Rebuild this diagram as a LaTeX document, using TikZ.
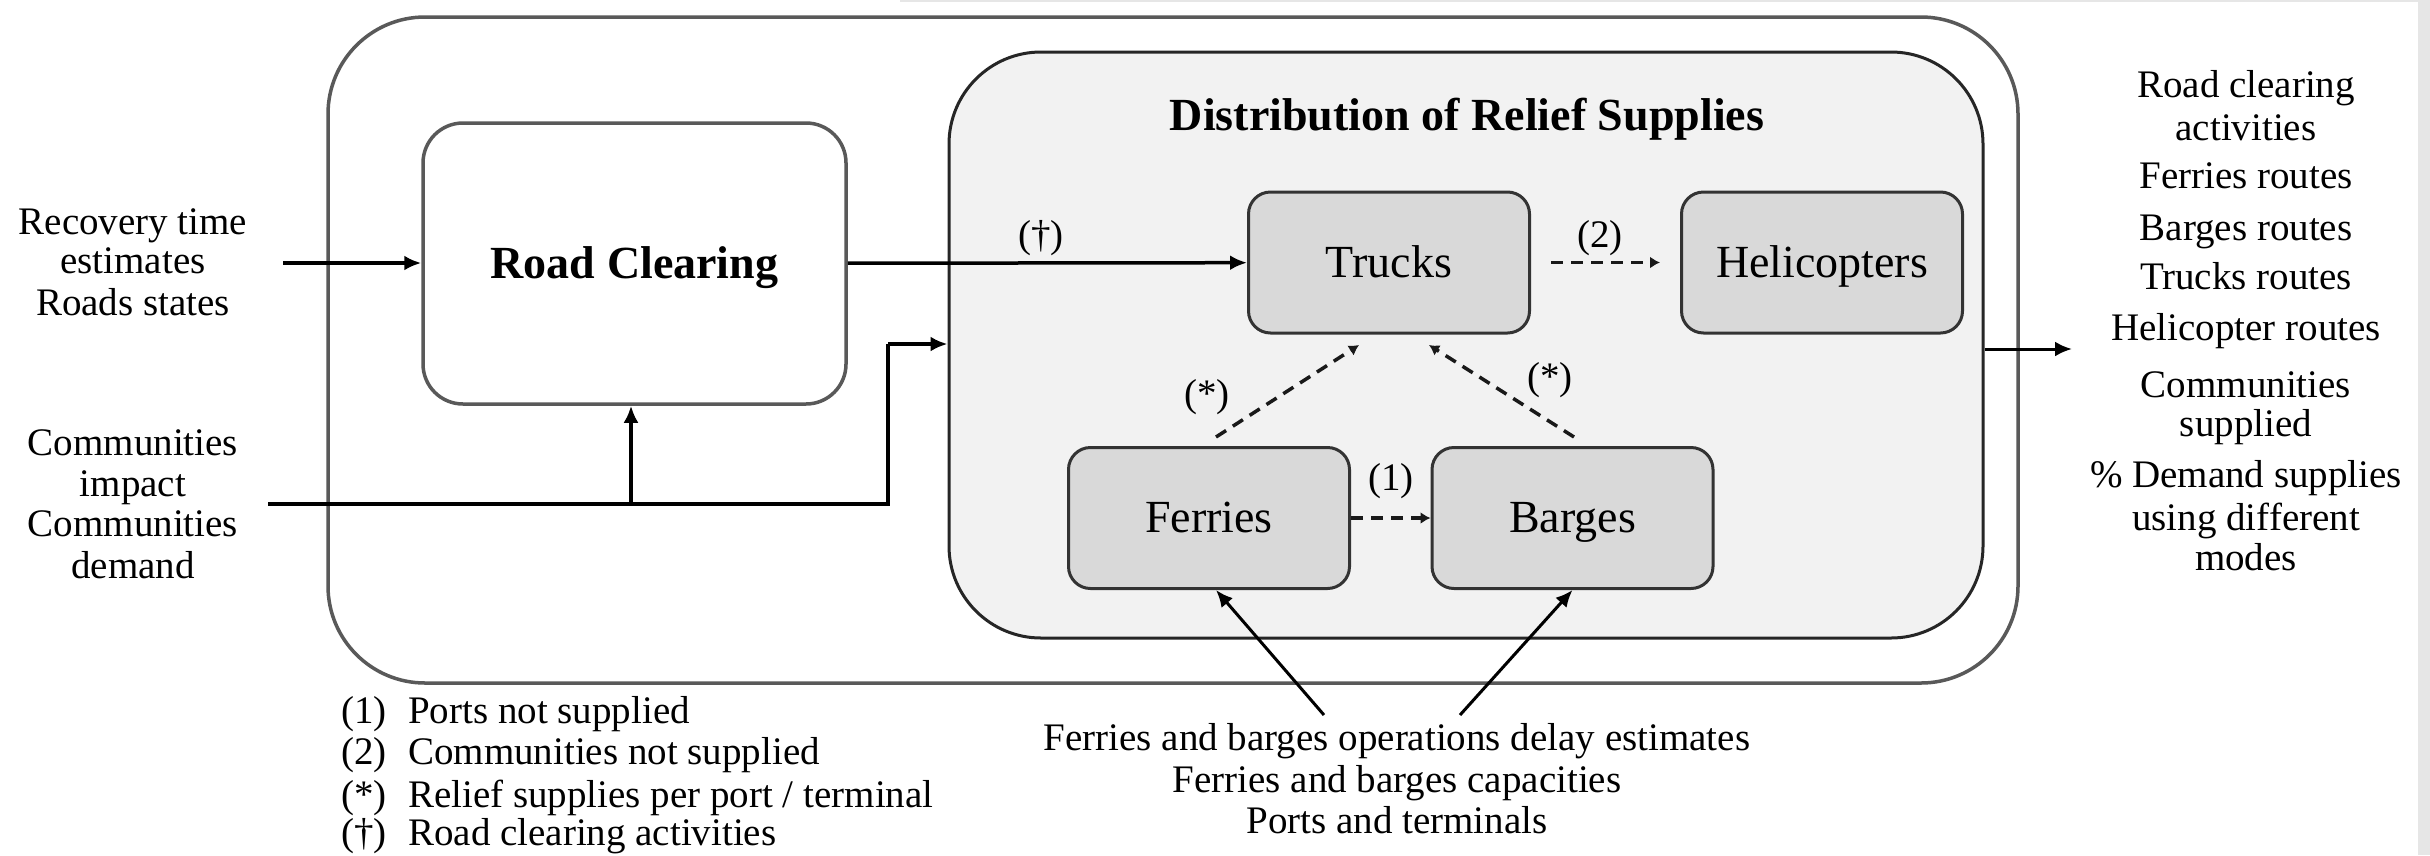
\documentclass[tikz,border=0pt]{standalone}
\usepackage{fontspec}
\setmainfont{Liberation Serif}
\usetikzlibrary{arrows.meta}
\definecolor{panel}{HTML}{F2F2F2}
\definecolor{mode}{HTML}{D9D9D9}
\definecolor{rim}{HTML}{E6E6E6}

\begin{document}
\begin{tikzpicture}[x=1pt,y=-1pt,
  txt/.style={font=\fontsize{39}{46}\selectfont, anchor=base, inner sep=0pt},
  lgd/.style={txt, anchor=base west},
  frame/.style={draw=black!65, line width=3.5pt, rounded corners=97pt, inner sep=0pt},
  stagebox/.style={draw=black!65, line width=3.5pt, rounded corners=40pt, fill=white,
    minimum width=423pt, minimum height=281pt, inner sep=0pt,
    font=\fontsize{46}{52}\selectfont\bfseries, text height=33pt, text depth=4pt},
  panelbox/.style={draw=black!85, line width=3pt, rounded corners=92pt, fill=panel, inner sep=0pt},
  modebox/.style={draw=black!80, line width=3pt, rounded corners=22pt, fill=mode,
    minimum width=281pt, minimum height=141pt, inner sep=0pt,
    font=\fontsize{46}{52}\selectfont, text height=33pt, text depth=4pt},
  arr/.style={draw=black, line width=3.5pt, -{Latex[length=17pt,width=15pt]}},
  link/.style={draw=black, line width=3.5pt},
  dasharr/.style={draw=black!90, line width=3.5pt, dash pattern=on 12pt off 8pt,
    -{Latex[length=10pt,width=12pt]}}
]
\useasboundingbox (0,0) rectangle (2430,855);
\fill[white] (0,0) rectangle (2430,855);
% screen edges
\fill[rim] (2418,0) rectangle (2430,855);
\fill[rim] (900,0) rectangle (2418,2);

% containers
\node[frame, minimum width=1690pt, minimum height=666pt] (outer) at (1173,350) {};
\node[stagebox] (rc) at (634.5,263.5) {Road Clearing};
\node[panelbox, minimum width=1034pt, minimum height=586pt] (dist) at (1466,345) {};
\node[txt, font=\fontsize{46}{52}\selectfont\bfseries] (title) at (1467,130) {Distribution of Relief Supplies};

% transport modes
\node[modebox] (trucks) at (1389,262.5) {Trucks};
\node[modebox] (heli) at (1822,262.5) {Helicopters};
\node[modebox] (ferries) at (1209,518) {Ferries};
\node[modebox] (barges) at (1572.5,518) {Barges};

% inputs on the left
\node[txt] (inA1) at (133,234) {Recovery time};
\node[txt] (inA2) at (133,273) {estimates};
\node[txt] (inA3) at (133,315) {Roads states};
\node[txt] (inB1) at (133,455) {Communities};
\node[txt] (inB2) at (133,496) {impact};
\node[txt] (inB3) at (133,536) {Communities};
\node[txt] (inB4) at (133,578) {demand};

\coordinate (inA) at (283,263);
\draw[arr] (inA) -- (rc.west |- inA);

\coordinate (inB) at (268,504);
\coordinate (split) at (631,504);
\coordinate (bend) at (888,504);
\coordinate (rise) at (888,344);
\draw[link] (inB) -- (bend) -- (rise);
\draw[arr] (rise) -- (dist.west |- rise);
\draw[arr] (split) -- (split |- rc.south);

% flows between modes
\draw[arr] (rc) -- (trucks);
\node[txt] (dag) at (1041,247) {(†)};
\draw[dasharr, shorten <=20pt, shorten >=20pt] (trucks) -- (heli);
\node[txt] (n2) at (1600,247) {(2)};
\draw[dasharr] (ferries) -- (barges);
\node[txt] (n1) at (1391,490) {(1)};

\coordinate (fUp) at (1216,437);
\coordinate (fTop) at (1359,345);
\coordinate (bUp) at (1574,437);
\coordinate (bTop) at (1429,345);
\draw[dasharr] (fUp) -- (fTop);
\draw[dasharr] (bUp) -- (bTop);
\node[txt] (starL) at (1207,406) {(*)};
\node[txt] (starR) at (1550,389) {(*)};

% port data below
\node[txt] (port1) at (1397,750) {Ferries and barges operations delay estimates};
\node[txt] (port2) at (1397,792) {Ferries and barges capacities};
\node[txt] (port3) at (1397,833) {Ports and terminals};
\coordinate (pL) at (1324,715);
\coordinate (pR) at (1460,715);
\draw[arr, line width=3pt] (pL) -- ([xshift=7pt]ferries.south);
\draw[arr, line width=3pt] (pR) -- (barges.south);

% outputs on the right
\coordinate (outTip) at (2072,349);
\draw[arr, line width=3pt] (dist.east |- outTip) -- (outTip);
\node[txt] (o1) at (2246,97) {Road clearing};
\node[txt] (o2) at (2246,140) {activities};
\node[txt] (o3) at (2246,188) {Ferries routes};
\node[txt] (o4) at (2246,240) {Barges routes};
\node[txt] (o5) at (2246,289) {Trucks routes};
\node[txt] (o6) at (2246,340) {Helicopter routes};
\node[txt] (o7) at (2246,397) {Communities};
\node[txt] (o8) at (2246,436) {supplied};
\node[txt] (o9) at (2246,487) {\% Demand supplies};
\node[txt] (o10) at (2246,530) {using different};
\node[txt] (o11) at (2246,570) {modes};

% legend
\node[lgd] (k1) at (341,723) {(1)};
\node[lgd] (t1) at (408,723) {Ports not supplied};
\node[lgd] (k2) at (341,764) {(2)};
\node[lgd] (t2) at (408,764) {Communities not supplied};
\node[lgd] (k3) at (341,807) {(*)};
\node[lgd] (t3) at (408,807) {Relief supplies per port / terminal};
\node[lgd] (k4) at (341,845) {(†)};
\node[lgd] (t4) at (408,845) {Road clearing activities};
\end{tikzpicture}
\end{document}
